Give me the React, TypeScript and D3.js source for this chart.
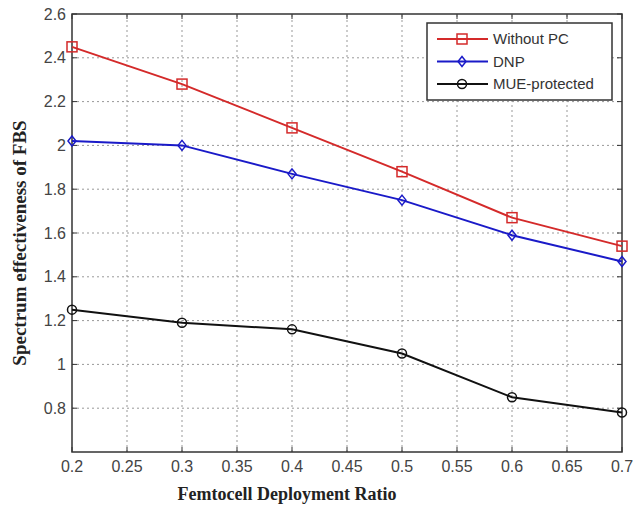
import React, { useRef, useEffect } from 'react';
import * as d3 from 'd3';

const ratios = [0.2, 0.3, 0.4, 0.5, 0.6, 0.7];
const withoutPC = [2.45, 2.28, 2.08, 1.88, 1.67, 1.54];
const dnp = [2.02, 2.0, 1.87, 1.75, 1.59, 1.47];
const mueProtected = [1.25, 1.19, 1.16, 1.05, 0.85, 0.78];

const xTicks = [0.2, 0.25, 0.3, 0.35, 0.4, 0.45, 0.5, 0.55, 0.6, 0.65, 0.7];
const yTicks = [0.8, 1, 1.2, 1.4, 1.6, 1.8, 2, 2.2, 2.4, 2.6];

const seriesNames = ['Without PC', 'DNP', 'MUE-protected'];
const seriesColors = ['#d42a2a', '#1a1ac8', '#111111'];
const seriesMarkers = ['square', 'diamond', 'circle'];

export default function App() {
    const ref = useRef<SVGSVGElement>(null);

    useEffect(() => {
        const svg = d3.select(ref.current);
        svg.selectAll('*').remove();

        const width = 635;
        const height = 511;
        const marginLeft = 72;
        const marginRight = 13;
        const marginTop = 14;
        const marginBottom = 59;

        svg.attr('width', width).attr('height', height);

        const x = d3.scaleLinear().domain([0.2, 0.7]).range([marginLeft, width - marginRight]);
        const y = d3.scaleLinear().domain([0.6, 2.6]).range([height - marginBottom, marginTop]);

        svg.append('rect').attr('width', width).attr('height', height).attr('fill', '#fff');

        // grid
        const grid = svg.append('g').attr('stroke', '#999').attr('stroke-dasharray', '2,3').attr('stroke-width', 1);
        xTicks.slice(1, -1).forEach(t => {
            grid.append('line').attr('x1', x(t)).attr('x2', x(t)).attr('y1', y(0.6)).attr('y2', y(2.6));
        });
        yTicks.slice(0, -1).forEach(t => {
            grid.append('line').attr('x1', x(0.2)).attr('x2', x(0.7)).attr('y1', y(t)).attr('y2', y(t));
        });

        // inside ticks on all sides
        const ticks = svg.append('g').attr('stroke', '#333').attr('stroke-width', 1);
        xTicks.forEach(t => {
            ticks.append('line').attr('x1', x(t)).attr('x2', x(t)).attr('y1', y(0.6)).attr('y2', y(0.6) - 5);
            ticks.append('line').attr('x1', x(t)).attr('x2', x(t)).attr('y1', y(2.6)).attr('y2', y(2.6) + 5);
        });
        yTicks.forEach(t => {
            ticks.append('line').attr('x1', x(0.2)).attr('x2', x(0.2) + 5).attr('y1', y(t)).attr('y2', y(t));
            ticks.append('line').attr('x1', x(0.7)).attr('x2', x(0.7) - 5).attr('y1', y(t)).attr('y2', y(t));
        });

        // box
        svg.append('rect')
            .attr('x', x(0.2)).attr('y', y(2.6))
            .attr('width', x(0.7) - x(0.2)).attr('height', y(0.6) - y(2.6))
            .attr('fill', 'none').attr('stroke', '#333').attr('stroke-width', 1.5);

        // tick labels
        svg.append('g').selectAll('text').data(xTicks).join('text')
            .attr('x', d => x(d)).attr('y', y(0.6) + 20)
            .attr('text-anchor', 'middle')
            .attr('font-family', 'Liberation Sans Narrow, Arial, sans-serif')
            .attr('font-size', 16).attr('fill', '#444')
            .text(d => String(d));

        svg.append('g').selectAll('text').data(yTicks).join('text')
            .attr('x', x(0.2) - 6).attr('y', d => y(d)).attr('dy', '0.35em')
            .attr('text-anchor', 'end')
            .attr('font-family', 'Liberation Sans Narrow, Arial, sans-serif')
            .attr('font-size', 16).attr('fill', '#444')
            .text(d => String(d));

        // axis titles
        svg.append('text')
            .attr('x', (x(0.2) + x(0.7)) / 2 - 60).attr('y', 500)
            .attr('text-anchor', 'middle')
            .attr('font-family', 'Liberation Serif, Times New Roman, serif')
            .attr('font-weight', 'bold').attr('font-size', 18).attr('fill', '#222')
            .text('Femtocell Deployment Ratio');

        svg.append('text')
            .attr('transform', `translate(26, ${(y(0.6) + y(2.6)) / 2 + 10}) rotate(-90)`)
            .attr('text-anchor', 'middle')
            .attr('font-family', 'Liberation Serif, Times New Roman, serif')
            .attr('font-weight', 'bold').attr('font-size', 19).attr('fill', '#222')
            .text('Spectrum effectiveness of FBS');

        const drawMarker = (g: any, kind: string, color: string, cx: number, cy: number) => {
            if (kind === 'square') {
                g.append('rect').attr('x', cx - 5).attr('y', cy - 5).attr('width', 10).attr('height', 10)
                    .attr('fill', 'none').attr('stroke', color).attr('stroke-width', 1.5);
            } else if (kind === 'diamond') {
                g.append('path').attr('d', `M${cx},${cy - 5}L${cx + 4},${cy}L${cx},${cy + 5}L${cx - 4},${cy}Z`)
                    .attr('fill', 'none').attr('stroke', color).attr('stroke-width', 1.5);
            } else {
                g.append('circle').attr('cx', cx).attr('cy', cy).attr('r', 4.5)
                    .attr('fill', 'none').attr('stroke', color).attr('stroke-width', 1.5);
            }
        };

        const allSeries = [withoutPC, dnp, mueProtected];
        const line = d3.line<number>().x((_, i) => x(ratios[i])).y(d => y(d));

        allSeries.forEach((vals, si) => {
            const g = svg.append('g');
            g.append('path').datum(vals).attr('d', line)
                .attr('fill', 'none').attr('stroke', seriesColors[si]).attr('stroke-width', 2);
            vals.forEach((v, i) => drawMarker(g, seriesMarkers[si], seriesColors[si], x(ratios[i]), y(v)));
        });

        // legend
        const lg = svg.append('g');
        lg.append('rect').attr('x', 427).attr('y', 23).attr('width', 185).attr('height', 77)
            .attr('fill', '#fff').attr('stroke', '#333').attr('stroke-width', 1.5);
        seriesNames.forEach((name, i) => {
            const ly = 39 + i * 22.5;
            lg.append('line').attr('x1', 437).attr('x2', 488).attr('y1', ly).attr('y2', ly)
                .attr('stroke', seriesColors[i]).attr('stroke-width', 2);
            drawMarker(lg, seriesMarkers[i], seriesColors[i], 462, ly);
            lg.append('text').attr('x', 493).attr('y', ly).attr('dy', '0.35em')
                .attr('font-family', 'Liberation Sans, Arial, sans-serif')
                .attr('font-size', 15).attr('fill', '#333')
                .text(name);
        });
    }, []);

    return <svg ref={ref} style={{ position: 'absolute', left: 0, top: 0 }} />;
}
